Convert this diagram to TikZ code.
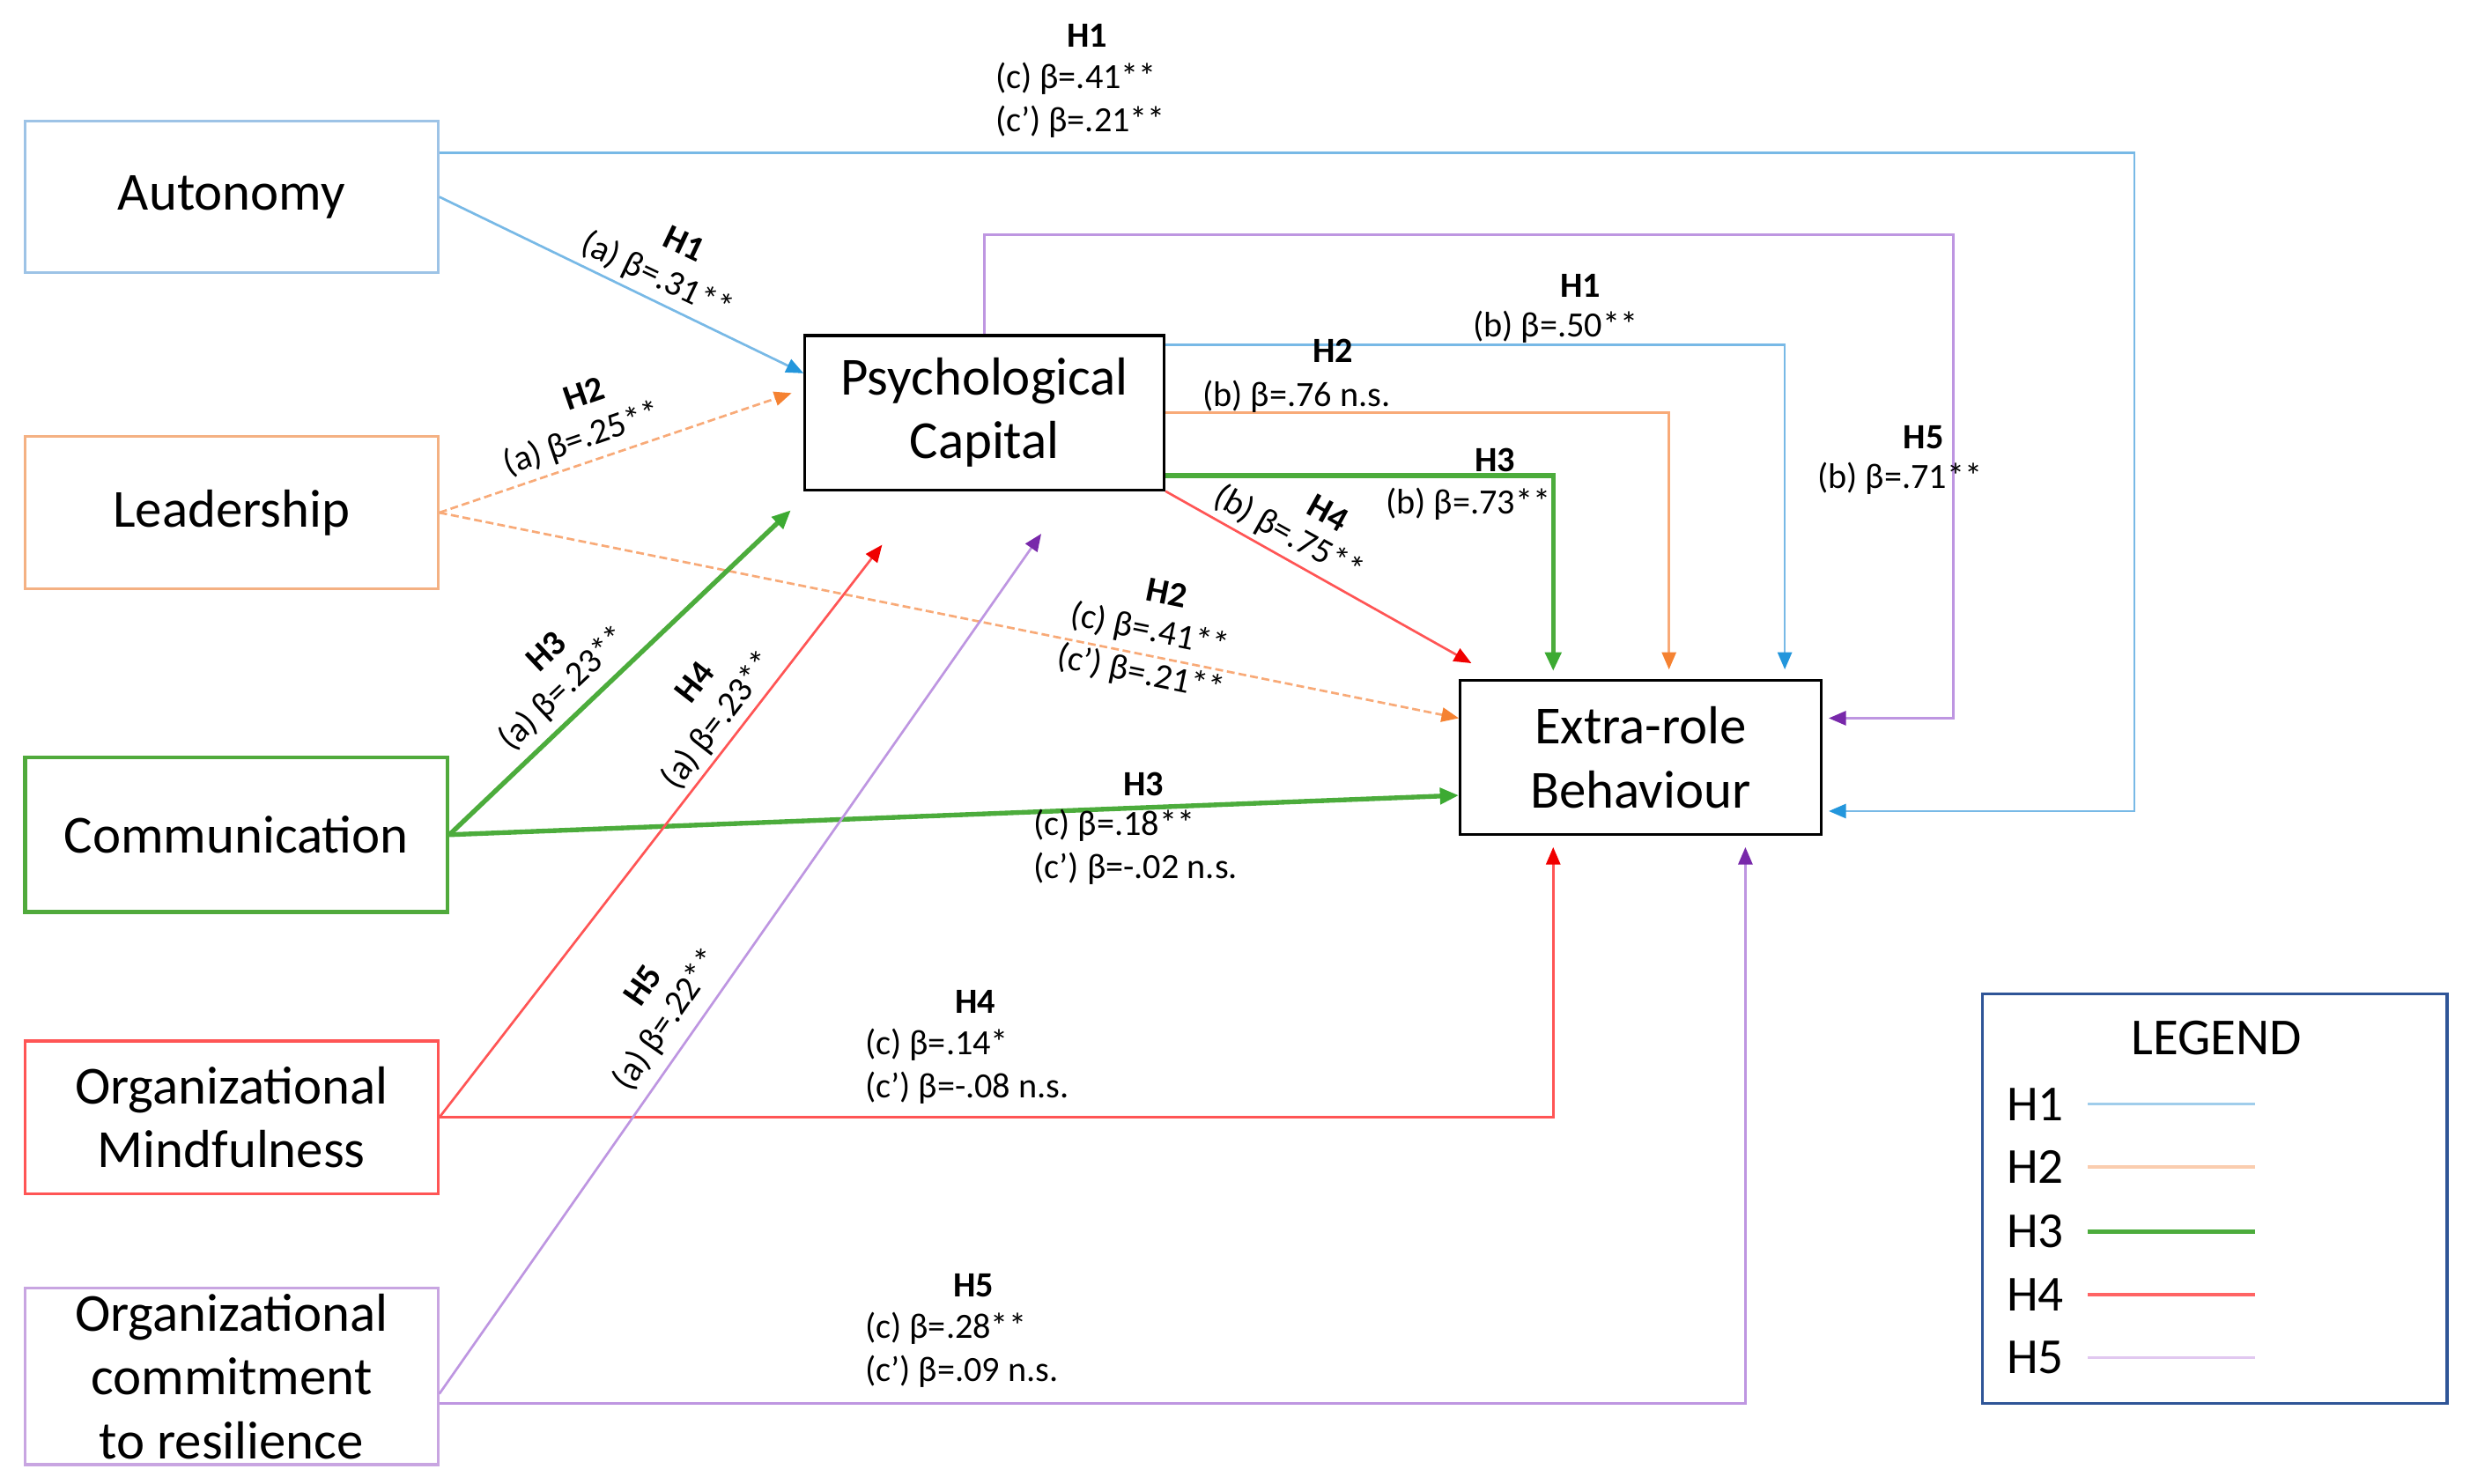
\documentclass[tikz,border=0pt]{standalone}
\usepackage{fontspec}
\setmainfont{Carlito}
\usetikzlibrary{arrows.meta}
\definecolor{autc}{RGB}{157,195,230}
\definecolor{leadc}{RGB}{244,177,131}
\definecolor{commc}{RGB}{80,170,60}
\definecolor{omc}{RGB}{255,85,85}
\definecolor{ocrc}{RGB}{200,165,225}
\definecolor{legc}{RGB}{47,85,151}
\definecolor{c1}{RGB}{120,185,230}\definecolor{t1}{RGB}{35,150,220}
\definecolor{c2}{RGB}{248,170,120}\definecolor{t2}{RGB}{245,130,50}
\definecolor{c3}{RGB}{76,172,60}\definecolor{t3}{RGB}{60,170,50}
\definecolor{c4}{RGB}{255,85,85}\definecolor{t4}{RGB}{240,0,0}
\definecolor{c5}{RGB}{190,150,225}\definecolor{t5}{RGB}{120,40,170}
\definecolor{g1}{RGB}{160,205,235}
\definecolor{g2}{RGB}{250,205,175}
\definecolor{g3}{RGB}{76,172,60}
\definecolor{g4}{RGB}{255,100,100}
\definecolor{g5}{RGB}{225,200,240}
\begin{document}
\begin{tikzpicture}[x=1pt,y=-1pt,
  box/.style={draw, line width=1.8pt, align=center, inner sep=0pt, font=\fontsize{34}{40.5}\selectfont},
  lbl/.style={inner sep=0pt, align=center, font=\fontsize{22.5}{27.5}\selectfont},
  hd/.style={inner sep=0pt, font=\fontsize{22.5}{27.5}\selectfont\bfseries},
  hyp1/.style={draw=c1, line width=1.5pt, -{Triangle[length=11pt,width=9pt,color=t1]}},
  hyp2/.style={draw=c2, line width=1.5pt, -{Triangle[length=11pt,width=9pt,color=t2]}},
  hyp3/.style={draw=c3, line width=3pt, -{Triangle[length=12pt,width=10pt,color=t3]}},
  hyp4/.style={draw=c4, line width=1.5pt, -{Triangle[length=11pt,width=9pt,color=t4]}},
  hyp5/.style={draw=c5, line width=1.5pt, -{Triangle[length=11pt,width=9pt,color=t5]}}]
  \useasboundingbox (0,0) rectangle (1568,942);

  \node[box, draw=autc, minimum width=262pt, minimum height=96pt] (aut) at (147,125) {Autonomy};
  \node[box, draw=leadc, minimum width=262pt, minimum height=97pt] (lead) at (147,325.5) {Leadership};
  \node[box, draw=commc, line width=2.5pt, minimum width=268pt, minimum height=98pt] (comm) at (150,530) {Communication};
  \node[box, draw=omc, minimum width=262pt, minimum height=97pt] (om) at (147,709.5) {Organizational\\Mindfulness};
  \node[box, draw=ocrc, minimum width=262pt, minimum height=112pt] (ocr) at (147,874) {Organizational\\commitment\\to resilience};
  \node[box, minimum width=228pt, minimum height=98pt] (pc) at (625,262) {Psychological\\Capital};
  \node[box, minimum width=229pt, minimum height=98pt] (erb) at (1041.5,481) {Extra-role\\Behaviour};

  \coordinate (h1c) at (1355,97);
  \coordinate (h5b) at (1240,149);

  \draw[hyp1] (aut.east) -- ([yshift=25pt]pc.west);
  \draw[hyp1, shorten >=4pt] ([yshift=28pt]aut.east) -| (h1c) |- ([yshift=-34pt]erb.east);
  \draw[hyp1, shorten >=6pt] ([yshift=43pt]pc.east) -| ([xshift=91.5pt]erb.north);
  \draw[hyp2, dash pattern=on 5pt off 2.5pt, shorten >=8pt] (lead.east) -- ([yshift=15pt]pc.west);
  \draw[hyp2, dash pattern=on 5pt off 2.5pt] (lead.east) -- ([yshift=25pt]erb.west);
  \draw[hyp2, shorten >=6pt] (pc.east) -| ([xshift=18pt]erb.north);
  \draw[hyp3] (comm.east) -- ([xshift=-8pt,yshift=-12pt]pc.south west);
  \draw[hyp3] (comm.east) -- ([yshift=-24pt]erb.west);
  \draw[hyp3, shorten >=5pt] ([yshift=-40pt]pc.east) -| ([xshift=-55.5pt]erb.north);
  \draw[hyp4] (om.east) -- ([xshift=-65pt,yshift=-34pt]pc.south);
  \draw[hyp4] (pc.south east) -- ([xshift=8pt,yshift=10pt]erb.north west);
  \draw[hyp4, shorten >=7pt] (om.east) -| ([xshift=-55.5pt]erb.south);
  \draw[hyp5] ([yshift=-11pt]ocr.east) -- ([xshift=36pt,yshift=-27pt]pc.south);
  \draw[hyp5, shorten >=7pt] ([yshift=-17pt]ocr.east) -| ([xshift=66.5pt]erb.south);
  \draw[hyp5, shorten >=4pt] (pc.north) |- (h5b) |- ([yshift=25pt]erb.east);

  \node[hd] (l1ch) at (690,22.7) {H1};
  \node[lbl, anchor=west, align=left] (l1cv) at (631.7,63.6) {(c) β=.41**\\(c’) β=.21**};
  \node[hd, rotate=-25.4] (l1ah) at (434.4,154.6) {H1};
  \node[lbl, rotate=-25.4] (l1av) at (417,175.8) {(a) β=.31**};
  \node[hd] (l1bh) at (1003.4,181.2) {H1};
  \node[lbl] (l1bv) at (987.5,207.7) {(b) β=.50**};

  \node[hd, rotate=19] (l2ah) at (370.5,250) {H2};
  \node[lbl, rotate=19] (l2av) at (369.5,278.9) {(a) β=.25**};
  \node[hd] (l2bh) at (846,223) {H2};
  \node[lbl] (l2bv) at (823,251.8) {(b) β=.76 n.s.};
  \node[hd, rotate=-11.6] (l2ch) at (740.8,376.6) {H2};
  \node[lbl, rotate=-11.6] (l2cv) at (727,414.3) {(c) β=.41**\\(c’) β=.21**};

  \node[hd, rotate=43.4] (l3ah) at (346.7,413.4) {H3};
  \node[lbl, rotate=43.4] (l3av) at (358,437.2) {(a) β=.23**};
  \node[hd] (l3bh) at (949,292.3) {H3};
  \node[lbl] (l3bv) at (932,320) {(b) β=.73**};
  \node[hd] (l3ch) at (726,498) {H3};
  \node[lbl, anchor=west, align=left] (l3cv) at (656,538) {(c) β=.18**\\(c’) β=-.02 n.s.};

  \node[hd, rotate=52.3] (l4ah) at (440.9,433.1) {H4};
  \node[lbl, rotate=52.3] (l4av) at (456.5,457.5) {(a) β=.23**};
  \node[hd, rotate=-29] (l4bh) at (842.9,325.8) {H4};
  \node[lbl, rotate=-29] (l4bv) at (818,339.5) {(b) β=.75**};
  \node[hd] (l4ch) at (619,636) {H4};
  \node[lbl, anchor=west, align=left] (l4cv) at (549,677) {(c) β=.14*\\(c’) β=-.08 n.s.};

  \node[hd, rotate=55.4] (l5ah) at (408,625.6) {H5};
  \node[lbl, rotate=55.4] (l5av) at (423.8,647.6) {(a) β=.22**};
  \node[hd] (l5bh) at (1221,277.8) {H5};
  \node[lbl] (l5bv) at (1206,303.7) {(b) β=.71**};
  \node[hd] (l5ch) at (618,816) {H5};
  \node[lbl, anchor=west, align=left] (l5cv) at (549,857) {(c) β=.28**\\(c’) β=.09 n.s.};

  \node[draw=legc, line width=2pt, minimum width=295pt, minimum height=260pt] (leg) at (1406,761) {};
  \node[inner sep=0pt, font=\fontsize{33}{40}\selectfont] (legt) at (1407,659) {LEGEND};
  \foreach \i/\y/\w in {1/701/2,2/741/2,3/782/3,4/822/2.2,5/862/2}
  {
    \node[inner sep=0pt, font=\fontsize{32}{38}\selectfont] (lh\i) at (1292,\y) {H\i};
    \draw[g\i, line width=\w pt] ([xshift=15pt]lh\i.east) -- ++(106,0);
  }
\end{tikzpicture}
\end{document}
